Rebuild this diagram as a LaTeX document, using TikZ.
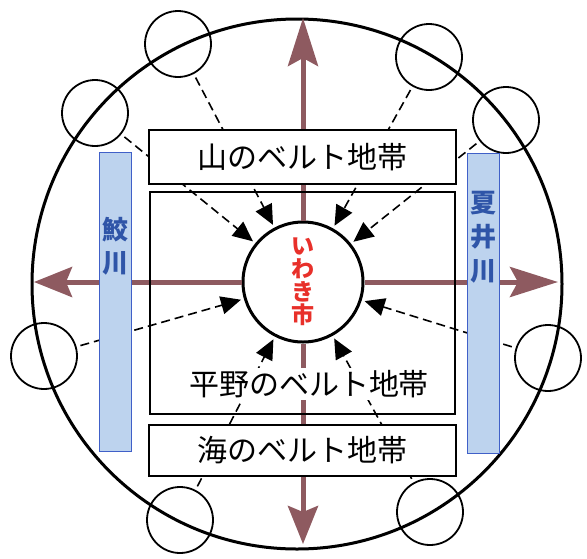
\documentclass[tikz,border=0pt]{standalone}
\usepackage{fontspec}
\setmainfont{Noto Sans CJK JP}
\usepackage{xcolor}
\usepackage{tikz}
\usetikzlibrary{arrows.meta}

\definecolor{flowbrown}{RGB}{142,90,96}
\definecolor{riverfill}{RGB}{189,211,238}
\definecolor{riverline}{RGB}{64,96,200}
\definecolor{rivertext}{RGB}{47,85,168}
\definecolor{cityred}{RGB}{232,48,42}

\begin{document}
\begin{tikzpicture}[x=1pt, y=-1pt]
    \tikzstyle{region} = [circle, draw, line width=3pt, minimum size=530pt, inner sep=0pt]
    \tikzstyle{town} = [circle, draw, line width=1.8pt, minimum size=66pt, inner sep=0pt]
    \tikzstyle{city} = [circle, draw, fill=white, line width=3pt, minimum size=120pt, inner sep=0pt, align=center, text=cityred, font=\fontsize{23}{23}\selectfont\bfseries]
    \tikzstyle{belt} = [rectangle, draw, fill=white, line width=1.6pt, minimum width=307pt, minimum height=54pt, font=\fontsize{30}{32}\selectfont]
    \tikzstyle{river} = [rectangle, draw=riverline, fill=riverfill, line width=1pt, minimum width=32pt, minimum height=299pt, inner sep=0pt]
    \tikzstyle{rivername} = [align=center, text=rivertext, inner sep=0pt, font=\fontsize{26}{33}\selectfont\bfseries]
    \tikzstyle{flow} = [line width=1.6pt, dash pattern=on 9pt off 5pt, -{Triangle[length=20pt, width=18pt]}, shorten <=4pt, shorten >=3pt]
    \tikzstyle{spread} = [draw=flowbrown, line width=5pt]
    \tikzstyle{longhead} = [-{Stealth[length=48pt, width=30pt, inset=8pt]}]
    \tikzstyle{shorthead} = [-{Stealth[length=38pt, width=30pt, inset=6pt]}]

    \useasboundingbox (0,0) rectangle (587,558);

    % Region and towns around it
    \node [region] (region) at (297,284) {};
    \node [town] (hillnw) at (178,44) {};
    \node [town] (hillw) at (95,113) {};
    \node [town] (hillne) at (429,57) {};
    \node [town] (hille) at (506,120) {};
    \node [town] (plainw) at (44,356) {};
    \node [town] (plaine) at (548,358) {};
    \node [town] (coastw) at (180,520) {};
    \node [town] (coaste) at (430,512) {};

    % City
    \node [city] (city) at (303,282) {い\\わ\\き\\市};

    % Arrow ends
    \coordinate (north) at (303,18);
    \coordinate (south) at (303,544);
    \coordinate (west) at (34,282);
    \coordinate (east) at (558,282);

    % Flows into the city
    \draw [flow] (hillnw) -- (city);
    \draw [flow] (hillw) -- (city);
    \draw [flow] (hillne) -- (city);
    \draw [flow] (hille) -- (city);
    \draw [flow] (plainw) -- (city);
    \draw [flow] (plaine) -- (city);
    \draw [flow] (coastw) -- (city);
    \draw [flow] (coaste) -- (city);

    % Spread from the city
    \draw [spread, longhead] (city) -- (north);
    \draw [spread, longhead] (city) -- (east);
    \draw [spread, shorthead] (city) -- (south);
    \draw [spread, shorthead] (city) -- (west);

    % Belts
    \node [rectangle, draw, line width=1.6pt, minimum width=305pt, minimum height=222pt] (plainbox) at (302.5,303) {};
    \node [belt] (hill) at (302.5,157) {山のベルト地帯};
    \node [belt, minimum height=51pt] (coast) at (302.5,450.5) {海のベルト地帯};
    \node [fill=white, inner sep=2pt, font=\fontsize{30}{32}\selectfont] (plain) at (309,384) {平野のベルト地帯};

    % Rivers
    \node [river] (samegawa) at (115,301.5) {};
    \node [river, minimum height=300pt] (natsuigawa) at (483,303) {};
    \node [rivername] (samegawaname) at (115,246) {鮫\\川};
    \node [rivername, font=\fontsize{26}{34}\selectfont\bfseries] (natsuiname) at (483,237) {夏\\井\\川};
\end{tikzpicture}
\end{document}
